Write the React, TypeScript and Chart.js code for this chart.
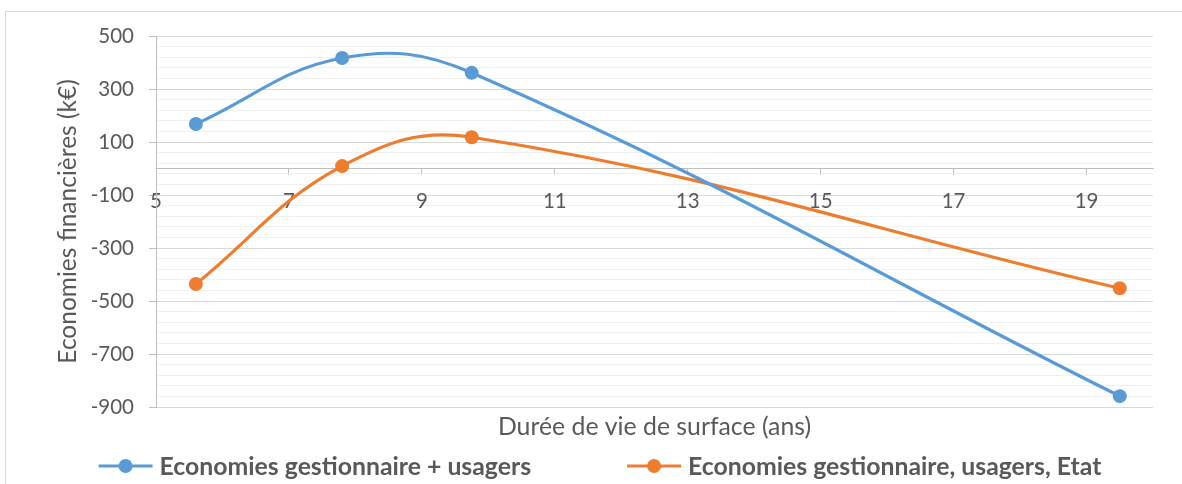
import React, { useEffect, useRef } from "react";
import { Chart, registerables } from "chart.js";

Chart.register(...registerables);

// ---- data ----
const seriesNames = [
  "Economies gestionnaire + usagers",
  "Economies gestionnaire, usagers, Etat",
];
const xValues = [5.6, 7.8, 9.75, 19.5];
const seriesGestUsagers = [168, 417, 361, -859];
const seriesGestUsagersEtat = [-436, 9, 118, -452];
const xTickValues = [5, 7, 9, 11, 13, 15, 17, 19];
const yMajorTicks = [-900, -700, -500, -300, -100, 100, 300, 500];
const xAxisTitle = "Durée de vie de surface (ans)";
const yAxisTitle = "Economies financières (k€)";

// ---- style ----
const seriesColors = ["#5B9BD5", "#ED7D31"];
const textColor = "#595959";
const fontFamily = "Lato";
const minorPerMajor = 5;

function buildYTicks(): number[] {
  const out: number[] = [];
  for (let i = 0; i < yMajorTicks.length - 1; i++) {
    const a = yMajorTicks[i];
    const b = yMajorTicks[i + 1];
    for (let k = 0; k < minorPerMajor; k++) {
      out.push(Math.round(a + ((b - a) * k) / minorPerMajor));
    }
  }
  out.push(yMajorTicks[yMajorTicks.length - 1]);
  return out;
}

const isMajor = (v: number) => yMajorTicks.includes(Math.round(v));

const legendPlugin = {
  id: "excelLegend",
  afterDraw(chart: any) {
    const ctx = chart.ctx as CanvasRenderingContext2D;
    ctx.save();
    ctx.font = `bold 24.8px ${fontFamily}`;
    const markerW = 54;
    const textGap = 7;
    const itemGap = 96;
    const widths = seriesNames.map((n) => ctx.measureText(n).width);
    let total = 0;
    widths.forEach((w, i) => {
      total += markerW + textGap + w + (i > 0 ? itemGap : 0);
    });
    let x = 600 - total / 2;
    const y = 466;
    seriesNames.forEach((name, i) => {
      const c = seriesColors[i];
      ctx.strokeStyle = c;
      ctx.lineWidth = 3;
      ctx.beginPath();
      ctx.moveTo(x, y);
      ctx.lineTo(x + markerW, y);
      ctx.stroke();
      ctx.fillStyle = c;
      ctx.beginPath();
      ctx.arc(x + markerW / 2, y, 7, 0, Math.PI * 2);
      ctx.fill();
      ctx.fillStyle = textColor;
      ctx.textBaseline = "middle";
      ctx.textAlign = "left";
      ctx.fillText(name, x + markerW + textGap, y + 1);
      x += markerW + textGap + widths[i] + itemGap;
    });
    ctx.restore();
  },
};

export default function App() {
  const canvasRef = useRef<HTMLCanvasElement | null>(null);

  useEffect(() => {
    if (!canvasRef.current) return;
    const yTicks = buildYTicks();
    const mk = (vals: number[]) => xValues.map((x, i) => ({ x, y: vals[i] }));
    const chart = new Chart(canvasRef.current, {
      type: "line",
      data: {
        datasets: [
          {
            label: seriesNames[0],
            data: mk(seriesGestUsagers),
            borderColor: seriesColors[0],
            backgroundColor: seriesColors[0],
            pointBackgroundColor: seriesColors[0],
            borderWidth: 3.2,
            pointRadius: 7,
            pointBorderWidth: 0,
            tension: 0.4,
            xAxisID: "x",
            yAxisID: "y",
          },
          {
            label: seriesNames[1],
            data: mk(seriesGestUsagersEtat),
            borderColor: seriesColors[1],
            backgroundColor: seriesColors[1],
            pointBackgroundColor: seriesColors[1],
            borderWidth: 3.2,
            pointRadius: 7,
            pointBorderWidth: 0,
            tension: 0.4,
            xAxisID: "x",
            yAxisID: "y",
          },
        ],
      },
      options: {
        animation: false,
        responsive: false,
        maintainAspectRatio: false,
        layout: { padding: { left: 46, right: 29, top: 36, bottom: 41 } },
        plugins: {
          legend: { display: false },
          tooltip: { enabled: false },
        },
        scales: {
          x: {
            type: "linear",
            min: 5,
            max: 20,
            position: { y: 0 } as any,
            afterBuildTicks: (s: any) => {
              s.ticks = xTickValues.map((v) => ({ value: v }));
            },
            ticks: {
              autoSkip: false,
              maxRotation: 0,
              padding: 15,
              color: textColor,
              font: { family: fontFamily, size: 20.5 },
            },
            grid: {
              drawOnChartArea: false,
              drawTicks: true,
              tickLength: 6,
              tickColor: "#bfbfbf",
              color: "#bfbfbf",
            },
            border: { display: true, color: "#bfbfbf", width: 1 },
          },
          xt: {
            type: "linear",
            position: "bottom",
            min: 0,
            max: 1,
            ticks: { display: false },
            grid: { display: false, drawTicks: false },
            border: { display: false },
            title: {
              display: true,
              text: xAxisTitle,
              color: textColor,
              font: { family: fontFamily, size: 24.8 },
              padding: { top: 0, bottom: 1 },
            },
            afterFit: (s: any) => {
              s.height = 36;
            },
          },
          y: {
            type: "linear",
            min: -900,
            max: 500,
            afterBuildTicks: (s: any) => {
              s.ticks = yTicks.map((v) => ({ value: v }));
            },
            afterFit: (s: any) => {
              s.width = 110;
            },
            ticks: {
              autoSkip: false,
              padding: 15,
              color: textColor,
              font: { family: fontFamily, size: 20.5 },
              callback: (v: any) => (isMajor(Number(v)) ? String(Math.round(Number(v))) : ""),
            },
            grid: {
              color: (c: any) => (c.tick && isMajor(c.tick.value) ? "#d9d9d9" : "#f0f0f0"),
              tickColor: (c: any) => (c.tick && isMajor(c.tick.value) ? "#bfbfbf" : "rgba(0,0,0,0)"),
              tickLength: 7,
              lineWidth: 1,
            },
            border: { display: true, color: "#bfbfbf", width: 1 },
            title: {
              display: true,
              text: yAxisTitle,
              color: textColor,
              font: { family: fontFamily, size: 24.5 },
              padding: { top: 7, bottom: 0 },
            },
          },
        },
      },
      plugins: [legendPlugin],
    } as any);
    return () => chart.destroy();
  }, []);

  return (
    <div
      style={{
        position: "absolute",
        left: 0,
        top: 0,
        width: 1182,
        height: 484,
        overflow: "hidden",
        background: "#ffffff",
      }}
    >
      <div
        style={{
          position: "absolute",
          left: 5,
          top: 11,
          width: 1300,
          height: 600,
          border: "1px solid #d9d9d9",
          boxSizing: "border-box",
        }}
      />
      <canvas
        ref={canvasRef}
        width={1182}
        height={484}
        style={{ position: "absolute", left: 0, top: 0, width: 1182, height: 484 }}
      />
    </div>
  );
}
